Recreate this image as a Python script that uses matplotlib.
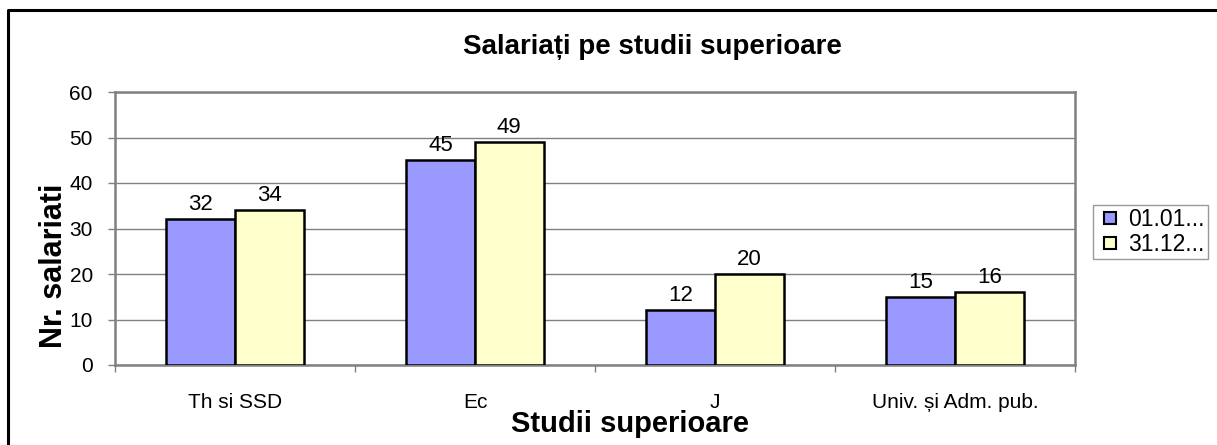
import matplotlib
matplotlib.use("Agg")
import matplotlib.pyplot as plt
from matplotlib.lines import Line2D
import numpy as np

plt.rcParams['font.family'] = ['Liberation Sans', 'DejaVu Sans']

categories = ["Th si SSD", "Ec", "J", "Univ. și Adm. pub."]
series_names = ["01.01...", "31.12..."]
values_start = [32, 45, 12, 15]
values_end = [34, 49, 20, 16]
y_ticks = [0, 10, 20, 30, 40, 50, 60]

colors = ["#9999FF", "#FFFFCC"]
grid_grey = "#808080"

W, H = 1217, 445
fig = plt.figure(figsize=(W / 100, H / 100), dpi=100)

ax = fig.add_axes([115 / W, 1 - 365 / H, (1075 - 115) / W, (365 - 92) / H])

x = np.arange(len(categories))
width = 1 / 3.5
b1 = ax.bar(x - width / 2, values_start, width, color=colors[0],
            edgecolor="black", linewidth=1.8, zorder=3)
b2 = ax.bar(x + width / 2, values_end, width, color=colors[1],
            edgecolor="black", linewidth=1.8, zorder=3)
for bars in (b1, b2):
    ax.bar_label(bars, padding=3, fontsize=16)

ax.set_xlim(-0.5, len(categories) - 0.5)
ax.set_ylim(0, 60)
ax.set_yticks(y_ticks)
ax.tick_params(axis="y", labelsize=15, length=5, width=1, color=grid_grey, pad=11)
ax.yaxis.grid(True, color=grid_grey, linewidth=1, zorder=0)
ax.set_axisbelow(True)

# category boundaries as tick marks, names as minor labels at centers
ax.set_xticks(np.arange(len(categories) + 1) - 0.5)
ax.set_xticklabels([""] * (len(categories) + 1))
ax.tick_params(axis="x", which="major", length=5, width=1, color=grid_grey)
ax.set_xticks(x, categories, minor=True)
ax.tick_params(axis="x", which="minor", length=0, labelsize=15, pad=20)

for s in ax.spines.values():
    s.set_color(grid_grey)
    s.set_linewidth(1.8)

# outer chart frame (left and top edges)
fig.add_artist(Line2D([8 / W, 8 / W, 1.0], [0.0, 1 - 10 / H, 1 - 10 / H],
                      transform=fig.transFigure, color="black", linewidth=2.2))

fig.text(463 / W, 1 - 47 / H, "Salariați pe studii superioare",
         ha="left", va="center", fontsize=20, fontweight="bold")
fig.text(54 / W, 1 - 266 / H, "Nr. salariati", rotation=90,
         ha="center", va="center", fontsize=22, fontweight="bold")
fig.text(630 / W, 1 - 424 / H, "Studii superioare",
         ha="center", va="center", fontsize=21, fontweight="bold")

handles = [Line2D([], [], linestyle="none", marker="s", markersize=9,
                  markerfacecolor=c, markeredgecolor="black", markeredgewidth=1.5)
           for c in colors]
leg = fig.legend(handles, series_names, loc="upper left",
                 bbox_to_anchor=(1093 / W, 1 - 205 / H), fontsize=16.5,
                 frameon=True, fancybox=False, handlelength=1.2,
                 handletextpad=0.2, borderpad=0.15, labelspacing=0.05,
                 borderaxespad=0)
leg.get_frame().set_edgecolor(grid_grey)
leg.get_frame().set_linewidth(1)

fig.savefig("out.png", dpi=100)
